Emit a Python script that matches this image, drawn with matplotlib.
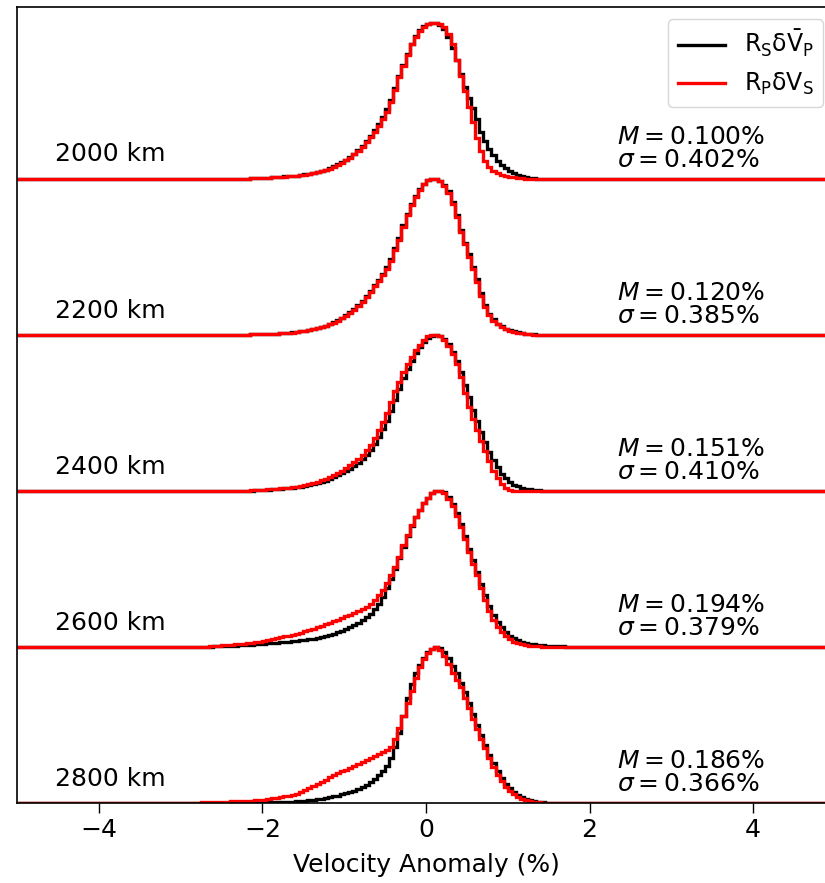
import numpy as np
import matplotlib
matplotlib.use('Agg')
import matplotlib.pyplot as plt

depths = ['2000 km', '2200 km', '2400 km', '2600 km', '2800 km']
mean_vals = ['0.100', '0.120', '0.151', '0.194', '0.186']
std_vals = ['0.402', '0.385', '0.410', '0.379', '0.366']

bin_width = 0.05
# left edge of the first non-empty bin of every histogram
black_start = [-2.15, -2.15, -2.15, -2.65, -2.3]
red_start = [-2.15, -2.15, -2.15, -2.65, -2.8]

# normalised histograms (peak = 1)
black_2000 = [0.002, 0.003, 0.004, 0.005, 0.007, 0.009, 0.010, 0.012, 0.014, 0.016,
              0.018, 0.020, 0.023, 0.027, 0.031, 0.036, 0.042, 0.048, 0.057, 0.067,
              0.079, 0.092, 0.105, 0.122, 0.140, 0.160, 0.184, 0.210, 0.240, 0.275,
              0.310, 0.350, 0.395, 0.445, 0.505, 0.580, 0.660, 0.730, 0.800, 0.865,
              0.915, 0.950, 0.975, 0.990, 1.000, 1.000, 0.985, 0.960, 0.910, 0.840,
              0.760, 0.670, 0.590, 0.520, 0.450, 0.380, 0.300, 0.240, 0.190, 0.150,
              0.110, 0.085, 0.066, 0.047, 0.034, 0.024, 0.016, 0.010, 0.006, 0.003, 0.001]
red_2000 = [0.002, 0.003, 0.004, 0.005, 0.007, 0.008, 0.010, 0.011, 0.013, 0.015,
            0.017, 0.019, 0.022, 0.026, 0.030, 0.034, 0.040, 0.046, 0.055, 0.064,
            0.076, 0.089, 0.100, 0.117, 0.135, 0.155, 0.178, 0.203, 0.232, 0.265,
            0.300, 0.340, 0.380, 0.430, 0.490, 0.570, 0.650, 0.720, 0.790, 0.860,
            0.910, 0.945, 0.970, 0.990, 1.000, 1.000, 0.990, 0.970, 0.925, 0.860,
            0.760, 0.660, 0.560, 0.460, 0.360, 0.260, 0.175, 0.115, 0.075, 0.050,
            0.035, 0.025, 0.017, 0.012, 0.008, 0.005, 0.003, 0.001]

black_2200 = [0.002, 0.003, 0.004, 0.005, 0.006, 0.007, 0.008, 0.009, 0.011, 0.013,
              0.015, 0.018, 0.022, 0.026, 0.031, 0.036, 0.043, 0.050, 0.059, 0.069,
              0.081, 0.094, 0.110, 0.126, 0.145, 0.167, 0.192, 0.218, 0.248, 0.283,
              0.318, 0.353, 0.390, 0.432, 0.488, 0.553, 0.622, 0.700, 0.775, 0.835,
              0.888, 0.932, 0.966, 0.990, 1.000, 1.000, 0.988, 0.960, 0.918, 0.850,
              0.765, 0.670, 0.590, 0.515, 0.435, 0.355, 0.265, 0.192, 0.135, 0.098,
              0.072, 0.054, 0.040, 0.030, 0.021, 0.015, 0.010, 0.007, 0.004, 0.002, 0.001]
red_2200 = [0.002, 0.003, 0.004, 0.005, 0.006, 0.007, 0.008, 0.009, 0.010, 0.012,
            0.014, 0.017, 0.021, 0.025, 0.030, 0.035, 0.041, 0.048, 0.056, 0.066,
            0.077, 0.090, 0.105, 0.120, 0.138, 0.160, 0.185, 0.210, 0.240, 0.275,
            0.310, 0.345, 0.380, 0.420, 0.475, 0.540, 0.610, 0.690, 0.770, 0.830,
            0.885, 0.930, 0.965, 0.990, 1.000, 1.000, 0.985, 0.955, 0.910, 0.840,
            0.755, 0.660, 0.580, 0.500, 0.420, 0.340, 0.250, 0.180, 0.125, 0.090,
            0.066, 0.050, 0.037, 0.027, 0.019, 0.013, 0.009, 0.006, 0.003, 0.001]

black_2400 = [0.002, 0.003, 0.004, 0.005, 0.007, 0.009, 0.011, 0.013, 0.015, 0.017,
              0.020, 0.023, 0.027, 0.031, 0.036, 0.042, 0.049, 0.057, 0.066, 0.076,
              0.087, 0.100, 0.113, 0.127, 0.143, 0.160, 0.180, 0.203, 0.230, 0.260,
              0.300, 0.345, 0.395, 0.450, 0.510, 0.580, 0.650, 0.720, 0.780, 0.835,
              0.880, 0.920, 0.955, 0.980, 0.995, 1.000, 0.995, 0.975, 0.940, 0.890,
              0.830, 0.760, 0.680, 0.600, 0.520, 0.445, 0.375, 0.310, 0.250, 0.195,
              0.150, 0.110, 0.080, 0.057, 0.040, 0.028, 0.019, 0.013, 0.009, 0.006,
              0.004, 0.002, 0.001]
red_2400 = [0.003, 0.004, 0.005, 0.007, 0.009, 0.011, 0.013, 0.015, 0.017, 0.020,
            0.023, 0.027, 0.032, 0.037, 0.043, 0.050, 0.058, 0.067, 0.077, 0.088,
            0.100, 0.115, 0.130, 0.145, 0.165, 0.185, 0.205, 0.230, 0.260, 0.295,
            0.340, 0.390, 0.440, 0.500, 0.570, 0.640, 0.700, 0.760, 0.810, 0.855,
            0.900, 0.935, 0.965, 0.990, 1.000, 1.000, 0.990, 0.965, 0.930, 0.875,
            0.810, 0.730, 0.630, 0.540, 0.460, 0.390, 0.320, 0.255, 0.190, 0.125,
            0.080, 0.045, 0.020, 0.006]

black_2600 = [0.002, 0.003, 0.004, 0.005, 0.006, 0.007, 0.008, 0.010, 0.011, 0.013,
              0.015, 0.017, 0.019, 0.021, 0.023, 0.025, 0.027, 0.029, 0.031, 0.033,
              0.036, 0.039, 0.042, 0.045, 0.049, 0.053, 0.058, 0.064, 0.070, 0.077,
              0.085, 0.094, 0.104, 0.114, 0.126, 0.140, 0.155, 0.172, 0.190, 0.212,
              0.240, 0.275, 0.320, 0.375, 0.435, 0.500, 0.570, 0.640, 0.710, 0.775,
              0.830, 0.875, 0.920, 0.955, 0.985, 1.000, 1.000, 0.990, 0.960, 0.915,
              0.860, 0.790, 0.710, 0.630, 0.555, 0.480, 0.405, 0.330, 0.260, 0.205,
              0.160, 0.125, 0.095, 0.072, 0.055, 0.042, 0.033, 0.026, 0.021, 0.017,
              0.014, 0.011, 0.009, 0.007, 0.006, 0.004, 0.003, 0.001]
red_2600 = [0.004, 0.006, 0.008, 0.010, 0.012, 0.014, 0.016, 0.018, 0.021, 0.024,
            0.027, 0.030, 0.034, 0.038, 0.043, 0.049, 0.055, 0.061, 0.067, 0.073,
            0.079, 0.085, 0.092, 0.100, 0.108, 0.116, 0.125, 0.134, 0.144, 0.154,
            0.164, 0.175, 0.186, 0.196, 0.207, 0.218, 0.228, 0.240, 0.254, 0.275,
            0.300, 0.330, 0.365, 0.410, 0.460, 0.510, 0.575, 0.650, 0.720, 0.780,
            0.830, 0.875, 0.920, 0.955, 0.985, 1.000, 1.000, 0.985, 0.950, 0.900,
            0.840, 0.770, 0.690, 0.610, 0.530, 0.460, 0.380, 0.300, 0.230, 0.175,
            0.130, 0.095, 0.068, 0.048, 0.034, 0.024, 0.017, 0.012, 0.008, 0.005,
            0.003, 0.001]

black_2800 = [0.001, 0.001, 0.002, 0.002, 0.002, 0.003, 0.003, 0.004, 0.004, 0.005,
              0.006, 0.007, 0.008, 0.009, 0.011, 0.013, 0.015, 0.018, 0.021, 0.024,
              0.028, 0.032, 0.037, 0.042, 0.048, 0.055, 0.062, 0.070, 0.079, 0.089,
              0.100, 0.115, 0.132, 0.152, 0.177, 0.205, 0.240, 0.290, 0.360, 0.450,
              0.560, 0.670, 0.760, 0.830, 0.885, 0.930, 0.965, 0.985, 1.000, 0.995,
              0.970, 0.930, 0.880, 0.830, 0.770, 0.710, 0.640, 0.570, 0.500, 0.435,
              0.370, 0.310, 0.255, 0.205, 0.160, 0.123, 0.093, 0.070, 0.052, 0.038,
              0.027, 0.019, 0.013, 0.009, 0.006, 0.003, 0.001]
red_2800 = [0.003, 0.004, 0.005, 0.005, 0.006, 0.007, 0.008, 0.009, 0.010, 0.011,
            0.012, 0.013, 0.014, 0.016, 0.018, 0.020, 0.022, 0.025, 0.029, 0.033,
            0.037, 0.042, 0.047, 0.053, 0.060, 0.070, 0.081, 0.093, 0.106, 0.120,
            0.135, 0.150, 0.165, 0.178, 0.190, 0.202, 0.214, 0.227, 0.240, 0.253,
            0.265, 0.277, 0.288, 0.300, 0.312, 0.325, 0.338, 0.360, 0.410, 0.480,
            0.560, 0.640, 0.720, 0.800, 0.870, 0.925, 0.960, 0.985, 1.000, 0.980,
            0.940, 0.890, 0.835, 0.790, 0.740, 0.675, 0.610, 0.540, 0.475, 0.410,
            0.350, 0.290, 0.230, 0.180, 0.140, 0.105, 0.077, 0.055, 0.038, 0.026,
            0.018, 0.012, 0.008, 0.005, 0.003, 0.001]

black_hists = [black_2000, black_2200, black_2400, black_2600, black_2800]
red_hists = [red_2000, red_2200, red_2400, red_2600, red_2800]

edges = np.round(np.arange(-5, 5 + bin_width / 2, bin_width), 3)


def pad(vals, start):
    # put the histogram on the full -5..5 grid, zero elsewhere
    full = np.zeros(len(edges) - 1)
    i0 = int(round((start + 5) / bin_width))
    full[i0:i0 + len(vals)] = vals
    return full


fs = 18
fig = plt.figure(figsize=(8.25, 8.83), dpi=100)
ax = fig.add_axes([0.0206, 0.0906, 0.9915, 0.9015])

for i in range(len(depths)):
    off = len(depths) - 1 - i
    ax.stairs(pad(black_hists[i], black_start[i]) + off, edges, baseline=None,
              color='black', lw=2.4, label=r'$\mathregular{R_S\delta\bar{V}_P}$' if i == 0 else None)
    ax.stairs(pad(red_hists[i], red_start[i]) + off, edges, baseline=None,
              color='red', lw=2.4, label=r'$\mathregular{R_P\delta V_S}$' if i == 0 else None)
    ax.text(-4.53, off + 0.11, depths[i], fontsize=fs, va='baseline')
    ax.text(2.34, off + 0.225, r'$M = %s\%%$' % mean_vals[i], fontsize=fs, va='baseline')
    ax.text(2.34, off + 0.075, r'$\sigma = %s\%%$' % std_vals[i], fontsize=fs, va='baseline')

ax.set_xlim(-5, 5)
ax.set_ylim(0, 5.1)
ax.set_yticks([])
ax.set_xticks([-4, -2, 0, 2, 4])
ax.tick_params(axis='x', labelsize=fs, length=7, width=1.0)
for s in ax.spines.values():
    s.set_linewidth(1.2)
ax.set_xlabel('Velocity Anomaly (%)', fontsize=fs, labelpad=8)
ax.legend(loc='upper right', fontsize=17)

fig.savefig('out.png', dpi=100)
